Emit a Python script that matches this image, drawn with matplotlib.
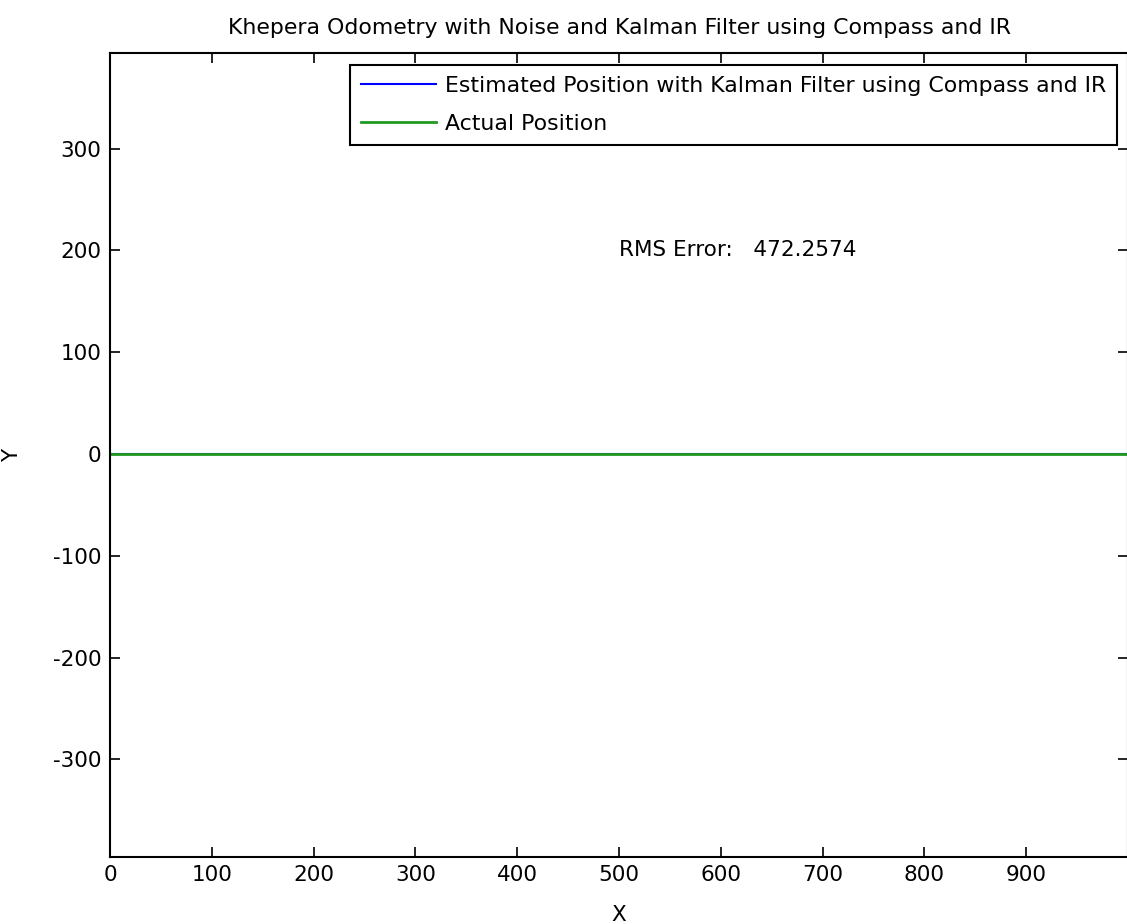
import numpy as np
import matplotlib
matplotlib.use('Agg')
import matplotlib.pyplot as plt

# trajectory samples (robot drove straight along x, y stayed at 0)
x_actual = [0, 250, 500, 750, 1000]
y_actual = [0, 0, 0, 0, 0]
x_est = [0, 250, 500, 750, 1000]
y_est = [0, 0, 0, 0, 0]
rms_error = 472.2574

xticks = [0, 100, 200, 300, 400, 500, 600, 700, 800, 900]
yticks = [-300, -200, -100, 0, 100, 200, 300]

plt.rcParams['font.family'] = ['DejaVu Sans']
plt.rcParams['axes.unicode_minus'] = False
fs = 15.5

fig = plt.figure(figsize=(11.27, 9.24), dpi=100)
ax = fig.add_axes([110/1127., 67/924., 1018/1127., 804/924.])

ax.plot(x_est, y_est, color='#0000ff', lw=1.5, label='Estimated Position with Kalman Filter using Compass and IR')
ax.plot(x_actual, y_actual, color='#1f9a1f', lw=2, label='Actual Position')

ax.set_xlim(0, 1000)
ax.set_ylim(-396, 394)
ax.set_xticks(xticks)
ax.set_yticks(yticks)
ax.tick_params(direction='in', top=True, right=True, length=7, width=1.2, labelsize=fs, pad=6)
for sp in ax.spines.values():
    sp.set_linewidth(1.5)

ax.text(500, 200, 'RMS Error:   ' + str(rms_error), fontsize=fs, va='center', ha='left')

ax.set_title('Khepera Odometry with Noise and Kalman Filter using Compass and IR', fontsize=15.8, pad=14)
ax.set_xlabel('X', fontsize=fs, labelpad=14)
ax.set_ylabel('Y', fontsize=fs, labelpad=22)

leg = ax.legend(loc='upper right', bbox_to_anchor=(0.989, 0.985), borderaxespad=0,
                fontsize=15.8, fancybox=False, framealpha=1, handlelength=3.4,
                handletextpad=0.4, labelspacing=0.8, borderpad=0.5)
leg.get_frame().set_edgecolor('black')
leg.get_frame().set_linewidth(1.5)

plt.savefig('out.png')
